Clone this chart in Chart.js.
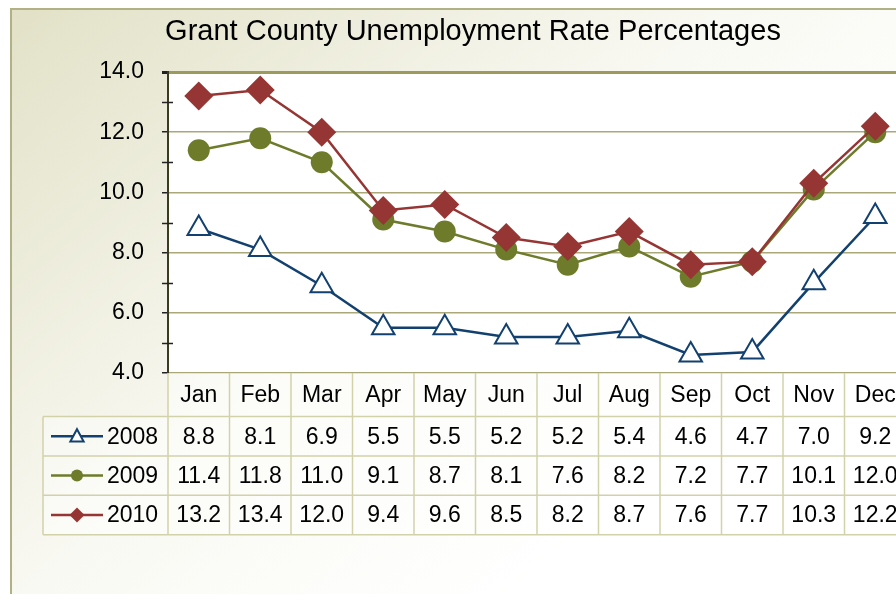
<!DOCTYPE html>
<html>
<head>
<meta charset="utf-8">
<script src="https://cdn.jsdelivr.net/npm/chart.js@4.4.1/dist/chart.umd.min.js"></script>
<style>
  html, body { margin: 0; padding: 0; background: #fff; overflow: hidden; }
  #wrap { width: 896px; height: 594px; overflow: hidden; position: relative; }
  canvas { display: block; }
</style>
</head>
<body>
<div id="wrap"><canvas id="chart" width="946" height="594"></canvas></div>
<script>
const months = ["Jan", "Feb", "Mar", "Apr", "May", "Jun", "Jul", "Aug", "Sep", "Oct", "Nov", "Dec"];
const years = ["2008", "2009", "2010"];
const rate2008 = [8.8, 8.1, 6.9, 5.5, 5.5, 5.2, 5.2, 5.4, 4.6, 4.7, 7.0, 9.2];
const rate2009 = [11.4, 11.8, 11.0, 9.1, 8.7, 8.1, 7.6, 8.2, 7.2, 7.7, 10.1, 12.0];
const rate2010 = [13.2, 13.4, 12.0, 9.4, 9.6, 8.5, 8.2, 8.7, 7.6, 7.7, 10.3, 12.2];
const yMajorTicks = [4, 6, 8, 10, 12, 14];
const yMinorTicks = [5, 7, 9, 11, 13];

const fontFamily = '"Liberation Sans", Arial, sans-serif';
const colors = { y2008: "#12406f", y2009: "#6d7b2b", y2010: "#963634" };
const gridColor = "#aaa878";
const tableLine = "#d2d2aa";

Chart.defaults.font.family = fontFamily;
Chart.defaults.color = "#000";

// small marker shapes for the legend keys in the table
const drawMarker = (ctx, style, x, y, r, color) => {
  ctx.save();
  ctx.strokeStyle = color;
  ctx.fillStyle = color;
  ctx.lineWidth = 2;
  ctx.beginPath();
  if (style === "triangle") {
    ctx.moveTo(x, y - r);
    ctx.lineTo(x + r * 0.95, y + r * 0.75);
    ctx.lineTo(x - r * 0.95, y + r * 0.75);
    ctx.closePath();
    ctx.fillStyle = "#fff";
    ctx.fill();
    ctx.stroke();
  } else if (style === "circle") {
    ctx.arc(x, y, r, 0, Math.PI * 2);
    ctx.fill();
  } else {
    ctx.moveTo(x, y - r);
    ctx.lineTo(x + r, y);
    ctx.lineTo(x, y + r);
    ctx.lineTo(x - r, y);
    ctx.closePath();
    ctx.fill();
  }
  ctx.restore();
};

const background = {
  id: "background",
  beforeDraw(chart) {
    const { ctx, width, height, chartArea } = chart;
    ctx.save();
    ctx.fillStyle = "#fff";
    ctx.fillRect(0, 0, width, height);
    const grad = ctx.createLinearGradient(11, 9, 500, 600);
    grad.addColorStop(0, "#e2e1c7");
    grad.addColorStop(0.6, "#f9f9f3");
    grad.addColorStop(1, "#ffffff");
    ctx.fillStyle = grad;
    ctx.fillRect(11, 9, width - 11, height - 9);
    // chart border
    ctx.strokeStyle = "#b0b285";
    ctx.lineWidth = 2;
    ctx.beginPath();
    ctx.moveTo(11, height);
    ctx.lineTo(11, 9);
    ctx.lineTo(width, 9);
    ctx.stroke();
    // plot area
    ctx.fillStyle = "#fff";
    ctx.fillRect(chartArea.left, chartArea.top, chartArea.right - chartArea.left, chartArea.bottom - chartArea.top);
    ctx.restore();
  },
};

const minorTicks = {
  id: "minorTicks",
  afterDraw(chart) {
    const { ctx, scales: { y } } = chart;
    ctx.save();
    ctx.strokeStyle = "#222";
    ctx.lineWidth = 1.5;
    yMinorTicks.forEach((v) => {
      const py = Math.round(y.getPixelForValue(v)) + 0.5;
      ctx.beginPath();
      ctx.moveTo(y.right - 6, py);
      ctx.lineTo(y.right + 5, py);
      ctx.stroke();
    });
    ctx.restore();
  },
};

const dataTable = {
  id: "dataTable",
  afterDraw(chart) {
    const { ctx, chartArea, scales: { x } } = chart;
    const colW = x.width / months.length;
    const top = chartArea.bottom;
    const headerH = 43.5;
    const rowH = 39.4;
    const keyLeft = 43;
    const right = chartArea.right;
    const series = [
      { values: rate2008, color: colors.y2008, style: "triangle", r: 7 },
      { values: rate2009, color: colors.y2009, style: "circle", r: 6 },
      { values: rate2010, color: colors.y2010, style: "rectRot", r: 7.5 },
    ];
    const bottom = top + headerH + rowH * years.length;
    ctx.save();
    // cell fills
    ctx.fillStyle = "rgba(255,255,255,0.45)";
    ctx.fillRect(chartArea.left, top, right - chartArea.left, headerH);
    ctx.fillRect(keyLeft, top + headerH, right - keyLeft, rowH * years.length);
    // lines
    ctx.strokeStyle = tableLine;
    ctx.lineWidth = 1.5;
    ctx.beginPath();
    for (let i = 0; i <= months.length; i++) {
      const px = chartArea.left + i * colW;
      ctx.moveTo(px, top);
      ctx.lineTo(px, bottom);
    }
    ctx.moveTo(keyLeft, top + headerH);
    ctx.lineTo(keyLeft, bottom);
    for (let r = 0; r <= years.length; r++) {
      const py = top + headerH + r * rowH;
      ctx.moveTo(keyLeft, py);
      ctx.lineTo(right, py);
    }
    ctx.stroke();
    // header labels
    ctx.fillStyle = "#000";
    ctx.font = `23px ${fontFamily}`;
    ctx.textAlign = "center";
    ctx.textBaseline = "middle";
    months.forEach((m, i) => {
      ctx.fillText(m, x.getPixelForValue(i), top + headerH / 2 + 1);
    });
    // rows
    series.forEach((s, r) => {
      const cy = top + headerH + r * rowH + rowH / 2 + 1;
      s.values.forEach((v, i) => {
        ctx.fillText(v.toFixed(1), x.getPixelForValue(i), cy);
      });
      // legend key
      ctx.strokeStyle = s.color;
      ctx.lineWidth = 2.5;
      ctx.beginPath();
      ctx.moveTo(51, cy - 1);
      ctx.lineTo(103, cy - 1);
      ctx.stroke();
      drawMarker(ctx, s.style, 77, cy - 1, s.r, s.color);
      ctx.fillStyle = "#000";
      ctx.textAlign = "left";
      ctx.fillText(years[r], 107, cy);
      ctx.textAlign = "center";
    });
    ctx.restore();
  },
};

const chart = new Chart(document.getElementById("chart"), {
  type: "line",
  data: {
    labels: months,
    datasets: [
      {
        label: years[0],
        data: rate2008,
        order: 2,
        borderColor: colors.y2008,
        borderWidth: 2.5,
        pointStyle: "triangle",
        pointRadius: 13,
        pointBorderWidth: 2,
        pointBackgroundColor: "#fff",
        pointBorderColor: colors.y2008,
      },
      {
        label: years[1],
        data: rate2009,
        order: 1,
        borderColor: colors.y2009,
        borderWidth: 2.5,
        pointStyle: "circle",
        pointRadius: 11,
        pointBorderWidth: 0,
        pointBackgroundColor: colors.y2009,
        pointBorderColor: colors.y2009,
      },
      {
        label: years[2],
        data: rate2010,
        order: 0,
        borderColor: colors.y2010,
        borderWidth: 2.5,
        pointStyle: "rectRot",
        pointRadius: 14.5,
        pointBorderWidth: 0,
        pointBackgroundColor: colors.y2010,
        pointBorderColor: colors.y2010,
      },
    ],
  },
  options: {
    responsive: false,
    animation: false,
    layout: { padding: { left: 40, right: 40, top: 9, bottom: 221 } },
    plugins: {
      legend: { display: false },
      tooltip: { enabled: false },
      title: {
        display: true,
        text: "Grant County Unemployment Rate Percentages",
        color: "#000",
        font: { size: 29, weight: "normal", lineHeight: 1.2 },
        padding: { top: 6, bottom: 22.2 },
      },
    },
    scales: {
      x: {
        type: "category",
        offset: true,
        display: false,
      },
      y: {
        min: 4,
        max: 14,
        afterFit: (scale) => {
          scale.width = 128;
        },
        afterBuildTicks: (scale) => {
          scale.ticks = yMajorTicks.map((v) => ({ value: v }));
        },
        ticks: {
          stepSize: 2,
          padding: 18,
          color: "#000",
          font: { size: 23 },
          callback: (v) => Number(v).toFixed(1),
        },
        grid: {
          color: (c) => (c.tick && c.tick.value === 14 ? "#9c9a5c" : gridColor),
          lineWidth: (c) => (c.tick && c.tick.value === 14 ? 3 : 1.5),
          tickColor: "#222",
          tickLength: 6,
        },
        border: { display: true, color: "#3b3b22", width: 2 },
      },
    },
  },
  plugins: [background, minorTicks, dataTable],
});
</script>
</body>
</html>
